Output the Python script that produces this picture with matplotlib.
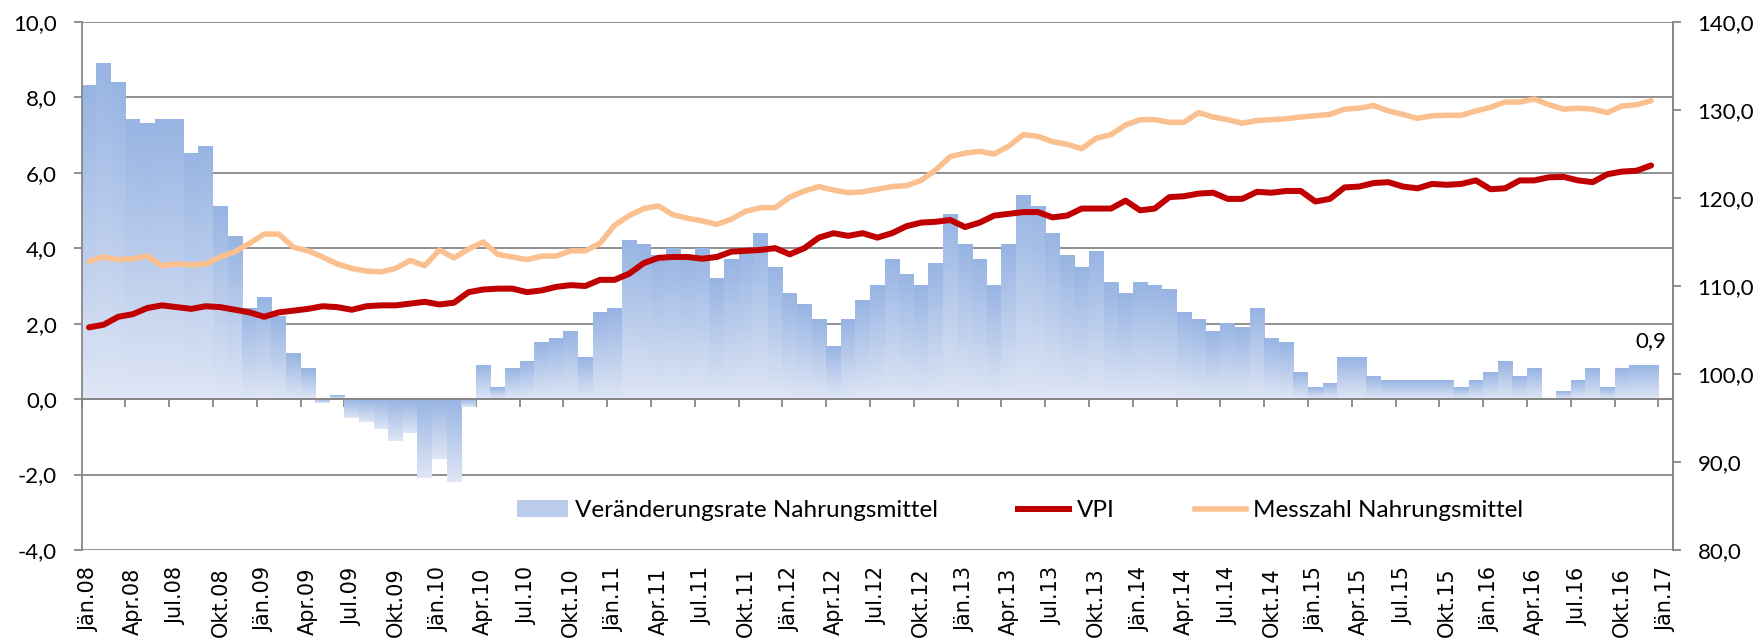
import numpy as np
import matplotlib
matplotlib.use("Agg")
import matplotlib.pyplot as plt
from matplotlib.colors import LinearSegmentedColormap
from matplotlib.patches import Patch
from matplotlib.lines import Line2D

#%% data (monthly, Jän.08 - Dez.16)
monate = ['Jän', 'Apr', 'Jul', 'Okt']
jahre = ['08', '09', '10', '11', '12', '13', '14', '15', '16', '17']

veraenderung = [8.3, 8.9, 8.4, 7.4, 7.3, 7.4, 7.4, 6.5, 6.7, 5.1, 4.3, 2.4,
                2.7, 2.2, 1.2, 0.8, -0.1, 0.1, -0.5, -0.6, -0.8, -1.1, -0.9, -2.1,
                -1.6, -2.2, -0.2, 0.9, 0.3, 0.8, 1.0, 1.5, 1.6, 1.8, 1.1, 2.3,
                2.4, 4.2, 4.1, 3.8, 4.0, 3.8, 4.0, 3.2, 3.7, 3.9, 4.4, 3.5,
                2.8, 2.5, 2.1, 1.4, 2.1, 2.6, 3.0, 3.7, 3.3, 3.0, 3.6, 4.9,
                4.1, 3.7, 3.0, 4.1, 5.4, 5.1, 4.4, 3.8, 3.5, 3.9, 3.1, 2.8,
                3.1, 3.0, 2.9, 2.3, 2.1, 1.8, 2.0, 1.9, 2.4, 1.6, 1.5, 0.7,
                0.3, 0.4, 1.1, 1.1, 0.6, 0.5, 0.5, 0.5, 0.5, 0.5, 0.3, 0.5,
                0.7, 1.0, 0.6, 0.8, 0.0, 0.2, 0.5, 0.8, 0.3, 0.8, 0.9, 0.9]

vpi = [105.3, 105.6, 106.5, 106.8, 107.5, 107.8, 107.6, 107.4, 107.7, 107.6,
       107.3, 107.0, 106.5, 107.0, 107.2, 107.4, 107.7, 107.6, 107.3, 107.7,
       107.8, 107.8, 108.0, 108.2, 107.9, 108.1, 109.3, 109.6, 109.7, 109.7,
       109.3, 109.5, 109.9, 110.1, 110.0, 110.7, 110.7, 111.4, 112.6, 113.2,
       113.3, 113.3, 113.1, 113.3, 113.9, 114.0, 114.1, 114.3, 113.6, 114.3,
       115.5, 116.0, 115.7, 116.0, 115.5, 116.0, 116.8, 117.2, 117.3, 117.5,
       116.7, 117.2, 118.0, 118.2, 118.4, 118.4, 117.8, 118.0, 118.8, 118.8,
       118.8, 119.7, 118.6, 118.8, 120.1, 120.2, 120.5, 120.6, 119.9, 119.9,
       120.7, 120.6, 120.8, 120.8, 119.6, 119.9, 121.2, 121.3, 121.7, 121.8,
       121.3, 121.1, 121.6, 121.5, 121.6, 122.0, 121.0, 121.1, 122.0, 122.0,
       122.35, 122.4, 122.0, 121.8, 122.7, 123.0, 123.1, 123.7]

messzahl = [112.8, 113.3, 113.0, 113.1, 113.4, 112.3, 112.5, 112.4, 112.5, 113.3,
            113.9, 114.85, 115.9, 115.9, 114.4, 114.0, 113.3, 112.5, 112.0, 111.7,
            111.6, 112.0, 112.9, 112.3, 114.1, 113.2, 114.2, 115.0, 113.6, 113.3,
            113.0, 113.4, 113.4, 114.0, 114.0, 114.85, 116.9, 118.0, 118.8, 119.1,
            118.1, 117.7, 117.4, 117.0, 117.6, 118.5, 118.9, 118.9, 120.1, 120.8,
            121.3, 120.9, 120.6, 120.7, 121.0, 121.3, 121.4, 122.0, 123.2, 124.7,
            125.1, 125.3, 125.0, 125.9, 127.2, 127.0, 126.4, 126.1, 125.6, 126.8,
            127.2, 128.3, 128.9, 128.9, 128.6, 128.6, 129.7, 129.2, 128.9, 128.5,
            128.8, 128.9, 129.0, 129.2, 129.35, 129.5, 130.1, 130.2, 130.5, 129.9,
            129.5, 129.05, 129.35, 129.4, 129.4, 129.9, 130.3, 130.9, 130.9, 131.25,
            130.6, 130.1, 130.2, 130.1, 129.7, 130.45, 130.6, 131.05]

#%% styling
gridc = '#878787'
yfont = 'Lato'
fs = 16
px = 0.72  # points per pixel at dpi 100
pos = [81.7 / 1762, 89 / 639, (1673 - 81.7) / 1762, 528 / 639]

x = np.arange(len(veraenderung))
labels = ['%s.%s' % (m, j) for j in jahre for m in monate][:len(x) // 3 + 1]

fig = plt.figure(figsize=(17.62, 6.39), dpi=100)
ax = fig.add_axes(pos)

# bars with vertical gradient (dark top -> light bottom)
cmap = LinearSegmentedColormap.from_list('bar', ['#97B4E3', '#DFE6F5'])
grad = np.linspace(0, 1, 256).reshape(-1, 1)
bars = ax.bar(x, veraenderung, width=1.0, color='none', edgecolor='none', zorder=2)
for b in bars:
    h = b.get_height()
    if h == 0:
        continue
    x0, y0 = b.get_x(), b.get_y()
    lo, hi = min(y0, y0 + h), max(y0, y0 + h)
    ax.imshow(grad, cmap=cmap, extent=[x0, x0 + b.get_width(), lo, hi],
              aspect='auto', origin='upper', zorder=1, interpolation='bilinear')

ax.set_xlim(-0.5, 108.5)
ax.set_ylim(-4, 10)
ax.set_yticks(np.arange(-4, 10.1, 2))
ax.set_yticklabels([('%.1f' % v).replace('.', ',') for v in np.arange(-4, 10.1, 2)],
                   fontfamily=yfont, fontsize=fs)
ax.yaxis.grid(True, color=gridc, lw=1.3)
ax.set_axisbelow(True)
ax.tick_params(axis='y', direction='out', length=8 * px, width=1.3, color=gridc, pad=12)

# x axis crosses at 0, ticks between quarters
ax.axhline(0, color=gridc, lw=1.4, zorder=3)
ax.spines['bottom'].set_position(('data', 0))
ax.set_xticks(np.arange(-0.5, 109, 3))
ax.tick_params(axis='x', direction='out', length=8 * px, width=1.3, color=gridc,
               labelbottom=False)
ax.spines['top'].set_visible(False)
for s in ['left', 'right', 'bottom']:
    ax.spines[s].set_color(gridc)
    ax.spines[s].set_linewidth(1.3)
ax.spines['bottom'].set_zorder(3)

ax.annotate('0,9', xy=(x[-1], veraenderung[-1]), xytext=(0, 10), textcoords='offset points',
            ha='center', va='bottom', fontfamily=yfont, fontsize=fs)

# right axis
ax2 = ax.twinx()
ax2.plot(x, vpi, color='#C00000', lw=6 * px, solid_capstyle='round', zorder=3)
ax2.plot(x, messzahl, color='#FAC090', lw=5.5 * px, solid_capstyle='round', zorder=3)
ax2.set_ylim(80, 140)
ax2.set_yticks(np.arange(80, 141, 10))
ax2.set_yticklabels([('%.1f' % v).replace('.', ',') for v in np.arange(80, 141, 10)],
                    fontfamily=yfont, fontsize=fs)
ax2.tick_params(axis='y', direction='out', length=8 * px, width=1.3, color=gridc, pad=12)
for s in ['top', 'left', 'bottom']:
    ax2.spines[s].set_visible(False)
ax2.spines['right'].set_color(gridc)
ax2.spines['right'].set_linewidth(1.3)

# transparent overlay carrying the date labels at the bottom
ax0 = fig.add_axes(pos)
ax0.set_xlim(-0.5, 108.5)
ax0.set_ylim(-4, 10)
ax0.patch.set_visible(False)
for s in ['top', 'left', 'right', 'bottom']:
    ax0.spines[s].set_visible(False)
ax0.set_yticks([])
ax0.set_xticks(np.arange(0, 109, 3))
ax0.set_xticklabels(labels, rotation=90, fontfamily='DejaVu Sans', fontsize=15,
                    va='top', ha='center')
ax0.tick_params(axis='x', length=0, pad=12.5)

handles = [Patch(facecolor='#BACBEC', edgecolor='none'),
           Line2D([], [], color='#C00000', lw=6 * px),
           Line2D([], [], color='#FAC090', lw=5.5 * px)]
ax0.legend(handles, ['Veränderungsrate Nahrungsmittel', 'VPI', 'Messzahl Nahrungsmittel'],
           loc='center', bbox_to_anchor=(0.5897, 0.0739), ncol=3, frameon=False,
           handlelength=2.1, handletextpad=0.3, columnspacing=3.3,
           prop={'family': yfont, 'size': 17.5})

fig.savefig('out.png', dpi=100)
